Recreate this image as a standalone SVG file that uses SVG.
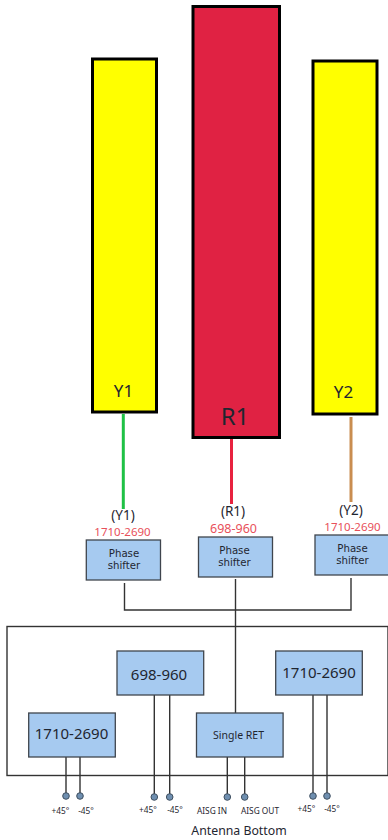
<svg xmlns="http://www.w3.org/2000/svg" width="388" height="840" viewBox="0 0 388 840">
<style>
text{font-family:"Noto Sans","Open Sans","DejaVu Sans",sans-serif;text-anchor:middle;fill:#1f2630}
.ant{stroke:#000;stroke-width:3}
.blue{fill:#a6caf0;stroke:#3f454d;stroke-width:1.3}
.w{fill:none;stroke:#333;stroke-width:1.4}
.dot{fill:#6f8fb0;stroke:#3f4f60;stroke-width:1}
.ps{font-family:"DejaVu Sans",sans-serif;font-size:10.2px}
.f{fill:#e8505a;font-size:11.5px}
.f2{fill:#e8505a;font-size:12.5px}
.pol{font-size:8.3px}
.band{font-size:15px}
.par{font-size:13.5px}
</style>
<rect width="388" height="840" fill="#fff"/>
<g id="connectors">
<path d="M123.3 414V509" stroke="#1fc145" stroke-width="3" fill="none"/>
<path d="M231.5 439V504" stroke="#e8223f" stroke-width="3" fill="none"/>
<path d="M351 417V502" stroke="#c98d50" stroke-width="3" fill="none"/>
<path class="w" d="M124.5 583V610H351V578"/>
<path class="w" d="M235.5 579V713"/>
<path class="w" d="M66 757V796M80 757V796M154.3 695V797M169.7 695V797M227.3 757V797M244.7 757V797M313 695V796M327 695V796"/>
</g>
<g id="enclosure"><rect x="7" y="626.5" width="381" height="149" class="w"/></g>
<g id="Y1"><rect class="ant" x="92.5" y="59" width="64" height="353" fill="#ff0"/><text x="123.5" y="397" font-size="17">Y1</text></g>
<g id="R1"><rect class="ant" x="193" y="6.5" width="86.5" height="431" fill="#e02243"/><text x="235" y="425" font-size="24">R1</text></g>
<g id="Y2"><rect class="ant" x="313" y="61" width="64" height="353" fill="#ff0"/><text x="343.5" y="398" font-size="17">Y2</text></g>
<g id="ps-y1"><text class="par" x="123" y="520">(Y1)</text><text class="f" x="122.5" y="536">1710-2690</text><rect class="blue" x="86.3" y="540" width="74.2" height="40"/><text class="ps" x="124" y="556.5">Phase</text><text class="ps" x="124" y="568.5">shifter</text></g>
<g id="ps-r1"><text class="par" x="233" y="515.5">(R1)</text><text class="f2" x="233.5" y="532.5">698-960</text><rect class="blue" x="198.5" y="537" width="74" height="40"/><text class="ps" x="234.5" y="553.5">Phase</text><text class="ps" x="234.5" y="565.5">shifter</text></g>
<g id="ps-y2"><text class="par" x="351" y="514.5">(Y2)</text><text class="f" x="352.5" y="531">1710-2690</text><rect class="blue" x="315" y="535" width="74" height="40"/><text class="ps" x="352.5" y="551.5">Phase</text><text class="ps" x="352.5" y="563.5">shifter</text></g>
<g id="band-698"><rect class="blue" x="117" y="651" width="86.7" height="44"/><text class="band" x="159" y="680">698-960</text></g>
<g id="band-1710-left"><rect class="blue" x="28.7" y="713" width="86.6" height="44"/><text class="band" x="71.5" y="739">1710-2690</text></g>
<g id="band-1710-right"><rect class="blue" x="275.7" y="651" width="86.6" height="44"/><text class="band" x="319" y="678">1710-2690</text></g>
<g id="ret"><rect class="blue" x="196.5" y="713" width="86.6" height="44"/><text x="238.5" y="739" font-size="10.5">Single RET</text></g>
<g id="ports">
<circle class="dot" cx="66" cy="796" r="3.3"/><circle class="dot" cx="80" cy="796" r="3.3"/>
<circle class="dot" cx="154.3" cy="797" r="3.3"/><circle class="dot" cx="169.7" cy="797" r="3.3"/>
<circle class="dot" cx="227.3" cy="797" r="3.3"/><circle class="dot" cx="244.7" cy="797" r="3.3"/>
<circle class="dot" cx="313" cy="796" r="3.3"/><circle class="dot" cx="327" cy="796" r="3.3"/>
<text class="pol" x="60.5" y="814">+45°</text><text class="pol" x="86" y="814">-45°</text>
<text class="pol" x="148" y="813">+45°</text><text class="pol" x="175" y="813">-45°</text>
<text class="pol" x="212" y="814">AISG IN</text><text class="pol" x="260" y="814">AISG OUT</text>
<text class="pol" x="306.5" y="812">+45°</text><text class="pol" x="332" y="812">-45°</text>
<text x="239" y="835" font-size="12.3">Antenna Bottom</text>
</g>
</svg>
